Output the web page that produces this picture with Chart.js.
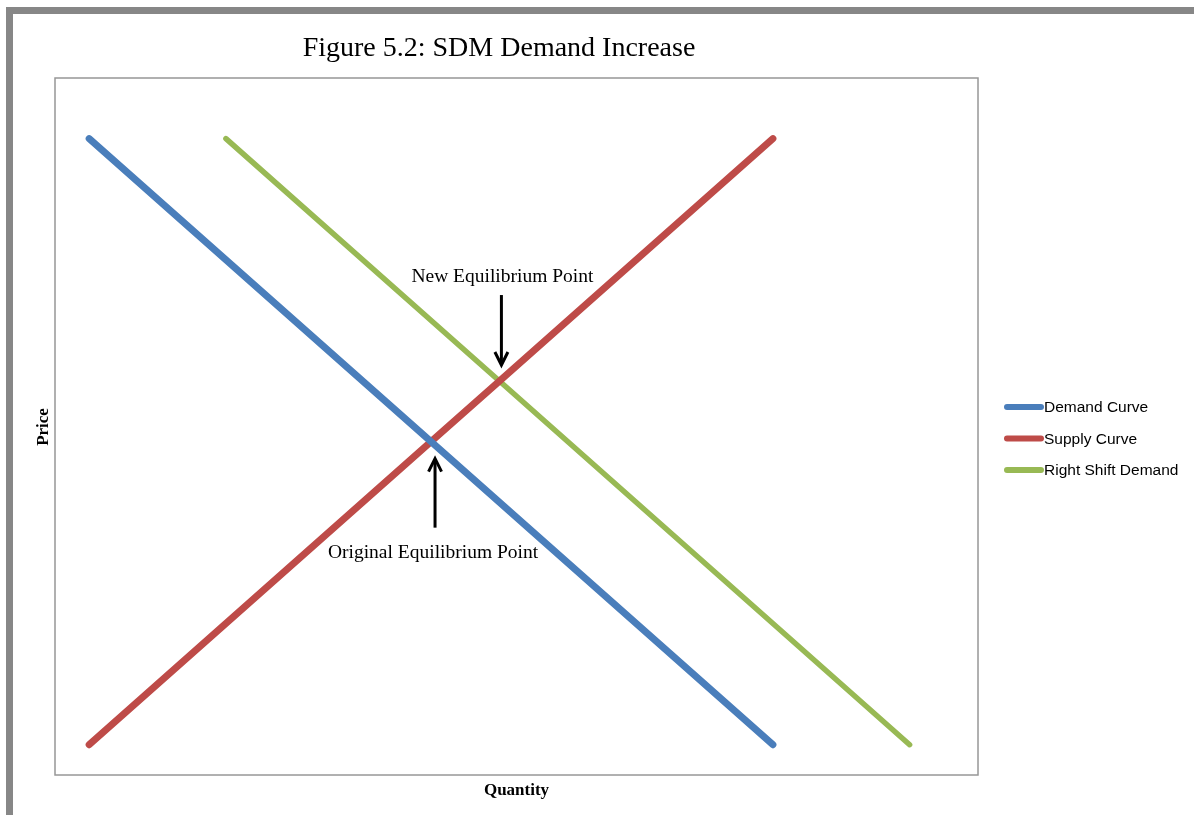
<!DOCTYPE html>
<html>
<head>
<meta charset="utf-8">
<script src="https://cdn.jsdelivr.net/npm/chart.js@4.4.0/dist/chart.umd.min.js"></script>
<style>
html, body { margin: 0; padding: 0; background: #fff; }
#wrap { position: relative; width: 1194px; height: 815px; overflow: hidden; }
#frame { position: absolute; left: 6px; top: 7px; right: 0; bottom: 0;
  border-top: 7px solid #878787; border-left: 7px solid #878787; }
canvas { position: absolute; left: 0; top: 0; }
</style>
</head>
<body>
<div id="wrap">
  <div id="frame"></div>
  <canvas id="sdm" width="1194" height="815"></canvas>
</div>
<script>
const chart_title = 'Figure 5.2: SDM Demand Increase';
const x_title = 'Quantity';
const y_title = 'Price';

const demand_qty = [0, 5, 10];
const demand_price = [10, 5, 0];
const supply_qty = [0, 5, 6, 10];
const supply_price = [0, 5, 6, 10];
const shift_qty = [2, 6, 12];
const shift_price = [10, 6, 0];

// equilibrium labels: [quantity, price, text]
const new_eq = [6, 6, 'New Equilibrium Point'];
const old_eq = [5, 5, 'Original Equilibrium Point'];

const toPoints = (xs, ys) => xs.map((x, i) => ({x: x, y: ys[i]}));

const serif = '"Liberation Serif", "Times New Roman", serif';

function arrow(ctx, x, y0, y1) {
    // shaft from y0 to tip at y1
    const dir = y1 > y0 ? 1 : -1;
    ctx.beginPath();
    ctx.moveTo(x, y0);
    ctx.lineTo(x, y1 - dir * 1);
    ctx.stroke();
    ctx.beginPath();
    ctx.moveTo(x - 6.5, y1 - dir * 13);
    ctx.lineTo(x, y1);
    ctx.lineTo(x + 6.5, y1 - dir * 13);
    ctx.stroke();
}

const decor = {
    id: 'decor',
    afterDraw(chart) {
        const ctx = chart.ctx;
        const a = chart.chartArea;
        const xs = chart.scales.x, ys = chart.scales.y;
        ctx.save();

        // plot box
        ctx.strokeStyle = '#979797';
        ctx.lineWidth = 1.5;
        ctx.strokeRect(a.left, a.top, a.right - a.left, a.bottom - a.top);

        // title
        ctx.fillStyle = '#000';
        ctx.textAlign = 'center';
        ctx.textBaseline = 'alphabetic';
        ctx.font = '28px ' + serif;
        ctx.fillText(chart_title, 499, 56);

        // axis titles
        ctx.font = 'bold 17px ' + serif;
        ctx.fillText(x_title, (a.left + a.right) / 2, 795);
        ctx.save();
        ctx.translate(48, 427);
        ctx.rotate(-Math.PI / 2);
        ctx.fillText(y_title, 0, 0);
        ctx.restore();

        // equilibrium annotations
        ctx.font = '19.5px ' + serif;
        ctx.strokeStyle = '#000';
        ctx.lineWidth = 3;
        ctx.lineCap = 'butt';
        ctx.lineJoin = 'miter';
        let px = xs.getPixelForValue(new_eq[0]), py = ys.getPixelForValue(new_eq[1]);
        ctx.fillText(new_eq[2], px + 3, py - 99);
        arrow(ctx, px + 2, py - 86, py - 16);
        px = xs.getPixelForValue(old_eq[0]);
        py = ys.getPixelForValue(old_eq[1]);
        ctx.fillText(old_eq[2], px + 2, py + 116);
        arrow(ctx, px + 4, py + 86, py + 17);

        // legend
        ctx.font = '15.5px "Liberation Sans", Arial, sans-serif';
        ctx.textAlign = 'left';
        ctx.textBaseline = 'middle';
        ctx.lineCap = 'round';
        chart.data.datasets.forEach((ds, i) => {
            const y = 407 + i * 31.5;
            ctx.strokeStyle = ds.borderColor;
            ctx.lineWidth = 6;
            ctx.beginPath();
            ctx.moveTo(1007, y);
            ctx.lineTo(1041, y);
            ctx.stroke();
            ctx.fillStyle = '#000';
            ctx.fillText(ds.label, 1044, y + 1);
        });
        ctx.restore();
    }
};

new Chart(
    document.getElementById('sdm'),
    {
        type: 'line',
        data: {
            datasets: [
                {
                    label: 'Demand Curve',
                    data: toPoints(demand_qty, demand_price),
                    borderColor: '#4a7ebb',
                    borderWidth: 7,
                },
                {
                    label: 'Supply Curve',
                    data: toPoints(supply_qty, supply_price),
                    borderColor: '#be4b48',
                    borderWidth: 7,
                },
                {
                    label: 'Right Shift Demand',
                    data: toPoints(shift_qty, shift_price),
                    borderColor: '#98b954',
                    borderWidth: 5.5,
                }
            ]
        },
        options: {
            responsive: false,
            animation: false,
            layout: {
                padding: {left: 55, top: 78, right: 216, bottom: 40}
            },
            elements: {
                point: { radius: 0 },
                line: { borderCapStyle: 'round', borderJoinStyle: 'round', tension: 0 }
            },
            scales: {
                x: { type: 'linear', min: -0.5, max: 13, display: false },
                y: { type: 'linear', min: -0.5, max: 11, display: false }
            },
            plugins: {
                legend: { display: false },
                tooltip: { enabled: false }
            }
        },
        plugins: [decor]
    }
);
</script>
</body>
</html>
